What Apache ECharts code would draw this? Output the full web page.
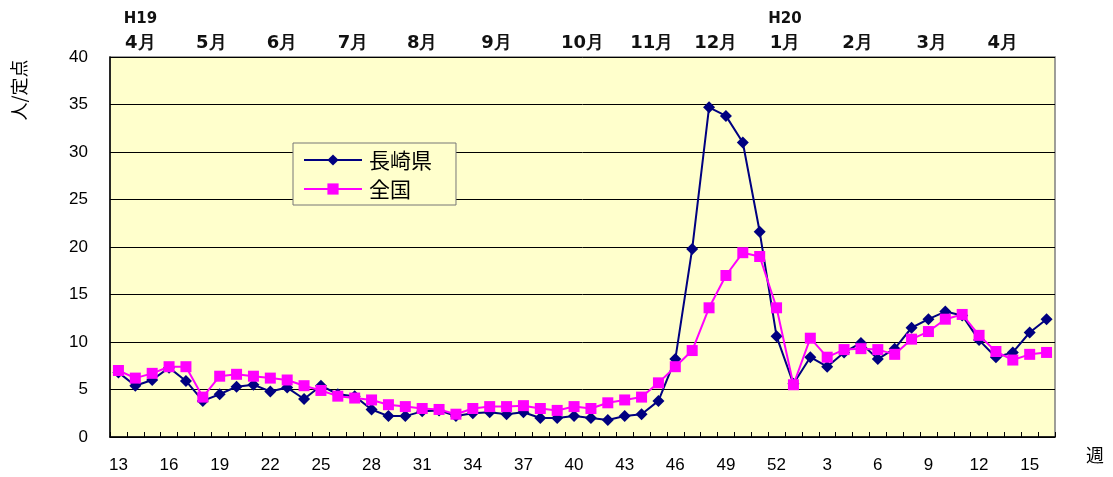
<!DOCTYPE html>
<html>
<head>
<meta charset="utf-8">
<script src="https://cdn.jsdelivr.net/npm/echarts@6/dist/echarts.min.js"></script>
<style>
  html, body { margin: 0; padding: 0; background: #ffffff; }
  #chart { width: 1113px; height: 477px; }
</style>
</head>
<body>
<div id="chart"></div>
<script>
// 週 (H19 第13週 〜 H20 第16週)
const weeks = [
  13, 14, 15, 16, 17, 18, 19, 20, 21, 22, 23, 24, 25, 26, 27, 28, 29, 30, 31, 32,
  33, 34, 35, 36, 37, 38, 39, 40, 41, 42, 43, 44, 45, 46, 47, 48, 49, 50, 51, 52,
  1, 2, 3, 4, 5, 6, 7, 8, 9, 10, 11, 12, 13, 14, 15, 16
];

// 定点当たり報告数 — 長崎県
const nagasaki = [
  6.8, 5.4, 6.0, 7.3, 5.9, 3.8, 4.5, 5.3, 5.5, 4.8, 5.2, 4.0, 5.4, 4.5, 4.3, 2.9, 2.2, 2.2, 2.7, 2.8,
  2.2, 2.5, 2.6, 2.4, 2.6, 2.0, 2.0, 2.2, 2.0, 1.8, 2.2, 2.4, 3.8, 8.2, 19.8, 34.7, 33.8, 31.0, 21.6, 10.6,
  5.6, 8.4, 7.4, 8.9, 9.9, 8.2, 9.3, 11.5, 12.4, 13.2, 12.8, 10.2, 8.4, 8.9, 11.0, 12.4
];

// 定点当たり報告数 — 全国
const zenkoku = [
  7.0, 6.2, 6.7, 7.4, 7.4, 4.2, 6.4, 6.6, 6.4, 6.2, 6.0, 5.4, 4.9, 4.3, 4.1, 3.9, 3.4, 3.2, 3.0, 2.9,
  2.4, 3.0, 3.2, 3.2, 3.3, 3.0, 2.8, 3.2, 3.0, 3.6, 3.9, 4.2, 5.7, 7.4, 9.1, 13.6, 17.0, 19.4, 19.0, 13.6,
  5.5, 10.4, 8.4, 9.2, 9.3, 9.2, 8.7, 10.3, 11.1, 12.4, 12.9, 10.7, 9.0, 8.1, 8.7, 8.9
];

// 上部の月表示: 週の並び上の位置 (小数可) と月名
const monthPos = [1.3, 5.5, 9.7, 13.9, 18.0, 22.4, 27.5, 31.6, 35.4, 39.5, 43.8, 48.2, 52.4];
const monthText = ['4月', '5月', '6月', '7月', '8月', '9月', '10月', '11月', '12月', '1月', '2月', '3月', '4月'];
const yearText = ['H19', '', '', '', '', '', '', '', '', 'H20', '', '', ''];

const yTicks = { min: 0, max: 40, interval: 5 };

const chart = echarts.init(document.getElementById('chart'), null, { renderer: 'canvas' });

const catIdx = weeks.map((w, i) => String(i));

chart.setOption({
  backgroundColor: '#ffffff',
  animation: false,
  textStyle: { fontFamily: 'Liberation Sans, Arial, sans-serif' },
  grid: {
    left: 110, right: 58, top: 57, bottom: 40,
    show: true,
    backgroundColor: '#ffffcc',
    borderColor: '#7f7f7f',
    borderWidth: 1.5
  },
  legend: {
    orient: 'vertical',
    left: 293, top: 143,
    padding: [5, 24, 4, 10],
    itemGap: 5,
    itemWidth: 58,
    itemHeight: 14,
    backgroundColor: '#ffffcc',
    borderColor: '#777777',
    borderWidth: 1,
    textStyle: { fontSize: 21, color: '#000', fontFamily: 'Noto Sans CJK JP, sans-serif', lineHeight: 24, padding: [0, 0, 0, 2] },
    data: ['長崎県', '全国']
  },
  xAxis: [
    {
      type: 'category',
      data: catIdx,
      boundaryGap: true,
      position: 'bottom',
      axisLine: { show: true, lineStyle: { color: '#000', width: 1.5 } },
      axisTick: { show: true, inside: true, length: 5, interval: 0, lineStyle: { color: '#000' } },
      axisLabel: {
        interval: 2,
        margin: 20,
        fontSize: 17,
        color: '#000',
        formatter: (v) => String(weeks[+v])
      },
      splitLine: { show: false }
    }
  ],
  yAxis: {
    type: 'value',
    min: yTicks.min, max: yTicks.max, interval: yTicks.interval,
    axisLine: { show: true, lineStyle: { color: '#000', width: 1.5 } },
    axisTick: { show: false },
    axisLabel: { fontSize: 17, color: '#000', margin: 22 },
    splitLine: { show: true, lineStyle: { color: '#000', width: 1 } }
  },
  series: [
    {
      name: '長崎県',
      type: 'line',
      data: nagasaki,
      symbol: 'diamond',
      symbolSize: 12,
      showAllSymbol: true,
      lineStyle: { color: '#000080', width: 2 },
      itemStyle: { color: '#000080' },
      z: 2
    },
    {
      name: '全国',
      type: 'line',
      data: zenkoku,
      symbol: 'rect',
      symbolSize: 11,
      showAllSymbol: true,
      lineStyle: { color: '#ff00ff', width: 2 },
      itemStyle: { color: '#ff00ff' },
      z: 3
    }
  ]
});

// 月ラベルは週の軸から位置を求めて配置する
function catX(f) {
  const a = Math.floor(f);
  const pa = chart.convertToPixel({ xAxisIndex: 0 }, String(a));
  const pb = chart.convertToPixel({ xAxisIndex: 0 }, String(a + 1));
  return pa + (f - a) * (pb - pa);
}

const graphics = [
  {
    type: 'text',
    x: 19, y: 90,
    rotation: Math.PI / 2,
    style: {
      text: '人/定点',
      fill: '#000',
      font: '18px "Noto Sans CJK JP", sans-serif',
      textAlign: 'center',
      textVerticalAlign: 'middle'
    }
  },
  {
    type: 'text',
    x: 1095, y: 455,
    style: {
      text: '週',
      fill: '#000',
      font: '18px "Noto Sans CJK JP", sans-serif',
      textAlign: 'center',
      textVerticalAlign: 'middle'
    }
  }
];

monthPos.forEach((p, k) => {
  const x = catX(p);
  graphics.push({
    type: 'text', x: x, y: 43,
    style: {
      text: monthText[k], fill: '#111',
      font: 'bold 18px "DejaVu Sans", sans-serif',
      textAlign: 'center', textVerticalAlign: 'middle'
    }
  });
  if (yearText[k]) {
    graphics.push({
      type: 'text', x: x, y: 19,
      style: {
        text: yearText[k], fill: '#111',
        font: 'bold 15px "DejaVu Sans", sans-serif',
        textAlign: 'center', textVerticalAlign: 'middle'
      }
    });
  }
});

chart.setOption({ graphic: graphics });
</script>
</body>
</html>
